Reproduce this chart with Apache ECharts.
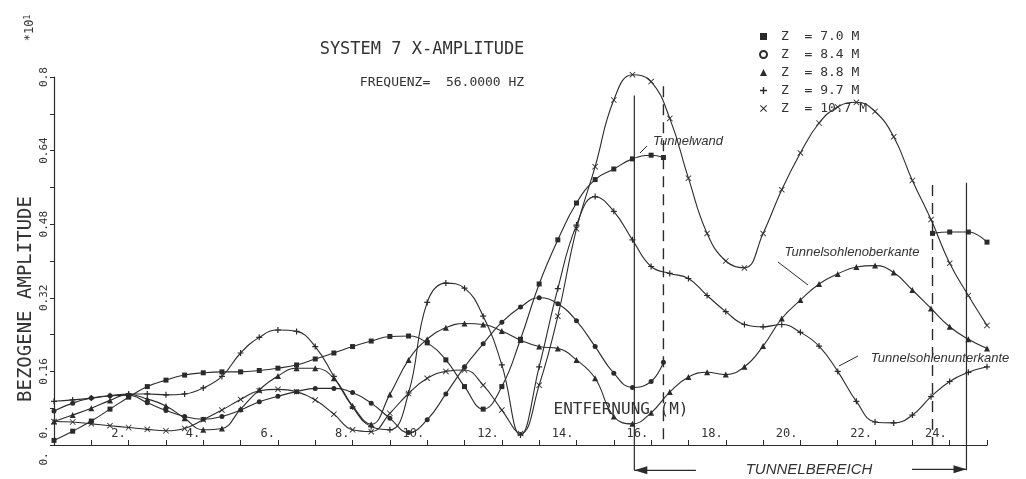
<!DOCTYPE html>
<html><head><meta charset="utf-8">
<script src="https://cdn.jsdelivr.net/npm/echarts@6/dist/echarts.min.js"></script>
<style>html,body{margin:0;padding:0;background:#fff}#c{width:1026px;height:479px}</style>
</head><body><div id="c"></div>
<script>
// ---- data ----
const distances = [0,0.5,1,1.5,2,2.5,3,3.5,4,4.5,5,5.5,6,6.5,7,7.5,8,8.5,9,9.5,10,10.5,11,11.5,12,12.5,13,13.5,14,14.5,15,15.5,16,16.5,17,17.5,18,18.5,19,19.5,20,20.5,21,21.5,22,22.5,23,23.5,24,24.5,25];
// Z = 7.0 M (squares) - interrupted inside the tunnel
const sqDist = [0,0.5,1,1.5,2,2.5,3,3.5,4,4.5,5,5.5,6,6.5,7,7.5,8,8.5,9,9.5,10,10.5,11,11.5,12,12.5,13,13.5,14,14.5,15,15.5,16,16.33,20,23.54,24,24.5,25];
const sqAmp = [0.01,0.03,0.052,0.078,0.104,0.127,0.141,0.152,0.157,0.159,0.159,0.162,0.167,0.174,0.187,0.2,0.214,0.226,0.236,0.237,0.222,0.185,0.127,0.078,0.127,0.23,0.35,0.446,0.526,0.577,0.6,0.622,0.63,0.625,null,0.46,0.463,0.463,0.441];
// Z = 8.4 M (circles) - ends at the tunnel wall
const ciDist = [0,0.5,1,1.5,2,2.5,3,3.5,4,4.5,5,5.5,6,6.5,7,7.5,8,8.5,9,9.5,10,10.5,11,11.5,12,12.5,13,13.5,14,14.5,15,15.5,16,16.33];
const ciAmp = [0.074,0.091,0.102,0.107,0.108,0.092,0.075,0.062,0.056,0.062,0.076,0.094,0.106,0.116,0.123,0.123,0.114,0.091,0.058,0.027,0.055,0.111,0.17,0.22,0.267,0.3,0.32,0.307,0.27,0.214,0.156,0.125,0.138,0.18];
// Z = 8.8 M (triangles)
const trAmp = [0.051,0.065,0.08,0.097,0.11,0.1,0.085,0.058,0.033,0.036,0.078,0.12,0.15,0.167,0.167,0.145,0.085,0.045,0.11,0.185,0.23,0.255,0.264,0.262,0.248,0.228,0.214,0.21,0.185,0.145,0.062,0.046,0.07,0.115,0.148,0.158,0.153,0.17,0.215,0.275,0.315,0.35,0.372,0.387,0.39,0.375,0.337,0.297,0.257,0.23,0.21];
// Z = 9.7 M (plus)
const plAmp = [0.095,0.098,0.102,0.107,0.111,0.111,0.109,0.111,0.124,0.149,0.2,0.234,0.25,0.247,0.214,0.149,0.083,0.04,0.033,0.113,0.31,0.352,0.341,0.28,0.174,0.022,0.17,0.34,0.478,0.54,0.508,0.446,0.388,0.373,0.362,0.325,0.29,0.262,0.257,0.262,0.245,0.215,0.16,0.095,0.05,0.048,0.065,0.105,0.138,0.158,0.17];
// Z = 10.7 M (crosses)
const xxAmp = [0.051,0.05,0.046,0.042,0.038,0.034,0.031,0.036,0.055,0.076,0.099,0.118,0.121,0.116,0.098,0.067,0.033,0.029,0.069,0.112,0.145,0.16,0.163,0.13,0.076,0.025,0.13,0.28,0.47,0.605,0.75,0.805,0.79,0.71,0.58,0.46,0.4,0.385,0.46,0.555,0.635,0.7,0.735,0.745,0.725,0.67,0.575,0.49,0.395,0.325,0.26];

const seriesNames = ['Z  = 7.0 M','Z  = 8.4 M','Z  = 8.8 M','Z  = 9.7 M','Z  = 10.7 M'];
const yTickValues = [0.16,0.32,0.48,0.64,0.8];
const yTickLabels = ['0.16','0.32','0.48','0.64','0.8'];
const xTickLabels = ['2.','4.','6.','8.','10.','12.','14.','16.','18.','20.','22.','24.'];

const tunnelWallX = [15.55, 24.45];
const tunnelWallTop = [0.76, 0.57];
const tunnelDashX = [16.33, 23.54];
const tunnelDashTop = [0.78, 0.565];
const arrowLevel = -0.055;
const arrowInnerX = [17.2, 22.99];

// ---- styles ----
const INK = '#2b2b2b';
const MONO = '"DejaVu Sans Mono", "Liberation Mono", monospace';
const HAND = '"Liberation Sans", "DejaVu Sans", sans-serif';
const PLUS = 'path://M0,4H10V6H0Z M4,0H6V10H4Z';
const CROSS = 'path://M1,0L5,4L9,0L10,1L6,5L10,9L9,10L5,6L1,10L0,9L4,5L0,1Z';

function pairs(xs, ys){ return xs.map((x,i)=>[x, ys[i]]); }

const symbols = ['rect','circle','triangle',PLUS,CROSS];
const legendIcons = ['rect','emptyCircle','triangle',PLUS,CROSS];
const dataSets = [pairs(sqDist,sqAmp), pairs(ciDist,ciAmp), pairs(distances,trAmp), pairs(distances,plAmp), pairs(distances,xxAmp)];

const chart = echarts.init(document.getElementById('c'), null, {renderer:'canvas'});
const option = {
  animation:false,
  backgroundColor:'#fff',
  grid:{left:54, right:39, top:77, bottom:34},
  legend:{
    orient:'vertical', left:754, top:25, itemWidth:7, itemHeight:7, itemGap:5,
    textStyle:{fontFamily:MONO, fontSize:13, color:'#333', padding:[0,0,0,9]},
    data: seriesNames.map((n,i)=>({name:n, icon:legendIcons[i]})),
    selectedMode:false
  },
  xAxis:{
    type:'value', min:0, max:25, interval:1,
    axisLine:{lineStyle:{color:INK, width:1.2}},
    axisTick:{inside:true, length:5, lineStyle:{color:INK}},
    axisLabel:{inside:true, margin:5, align:'right', padding:[0,3,0,0], fontFamily:MONO, fontSize:12, color:'#333',
      formatter:(v)=>{ const i = xTickLabels.findIndex(s=>Math.abs(parseFloat(s)-v)<1e-6); return i>=0?xTickLabels[i]:''; }},
    splitLine:{show:false}
  },
  yAxis:{
    type:'value', min:0, max:0.8, interval:0.08,
    axisLine:{show:true, lineStyle:{color:INK, width:1.2}},
    axisTick:{show:true, length:4, lineStyle:{color:INK}},
    axisLabel:{rotate:90, margin:4, fontFamily:MONO, fontSize:11, color:'#333',
      formatter:(v)=>{ const i = yTickValues.findIndex(t=>Math.abs(t-v)<1e-6); return i>=0?yTickLabels[i]:''; }},
    splitLine:{show:false}
  },
  series: seriesNames.map((n,i)=>({
    name:n, type:'line', data:dataSets[i], smooth:0.45, clip:false,
    symbol:symbols[i], symbolSize: i<2?5:6, showAllSymbol:true,
    lineStyle:{color:INK, width:1.1}, itemStyle:{color:INK},
    emphasis:{disabled:true}
  }))
};
chart.setOption(option);

// ---- annotations positioned through the chart's own scales ----
function px(x,y){ return chart.convertToPixel({gridIndex:0},[x,y]); }
const g = [];
tunnelWallX.forEach((x,i)=>{
  const a = px(x, tunnelWallTop[i]), b = px(x, arrowLevel);
  g.push({type:'line', shape:{x1:a[0],y1:a[1],x2:b[0],y2:b[1]}, style:{stroke:INK, lineWidth:1.2}});
});
tunnelDashX.forEach((x,i)=>{
  const a = px(x, tunnelDashTop[i]), b = px(x, 0);
  g.push({type:'line', shape:{x1:a[0],y1:a[1],x2:b[0],y2:b[1]}, style:{stroke:INK, lineWidth:1.4, lineDash:[11,7]}});
});
// TUNNELBEREICH arrows
{
  const l0 = px(tunnelWallX[0], arrowLevel), l1 = px(arrowInnerX[0], arrowLevel);
  const r0 = px(arrowInnerX[1], arrowLevel), r1 = px(tunnelWallX[1], arrowLevel);
  g.push({type:'line', shape:{x1:l0[0],y1:l0[1],x2:l1[0],y2:l1[1]}, style:{stroke:INK, lineWidth:1.3}});
  g.push({type:'polygon', shape:{points:[[l0[0],l0[1]],[l0[0]+13,l0[1]-4],[l0[0]+13,l0[1]+4]]}, style:{fill:INK}});
  g.push({type:'line', shape:{x1:r0[0],y1:r0[1]-1,x2:r1[0],y2:r1[1]-1}, style:{stroke:INK, lineWidth:1.3}});
  g.push({type:'polygon', shape:{points:[[r1[0],r1[1]-1],[r1[0]-13,r1[1]-5],[r1[0]-13,r1[1]+3]]}, style:{fill:INK}});
}
function txt(text,x,y,font,opts){ return Object.assign({type:'text', x:x, y:y, style:{text:text, font:font, fill:'#333', align:'center', verticalAlign:'middle'}}, opts||{}); }
g.push(txt('SYSTEM 7 X-AMPLITUDE', 422, 50, '17px '+MONO));
g.push(txt('FREQUENZ=  56.0000 HZ', 442, 83, '13px '+MONO));
g.push(txt('BEZOGENE AMPLITUDE', 26, 299, '19px '+MONO, {rotation:Math.PI/2}));
g.push({type:'text', x:30, y:28, rotation:Math.PI/2, style:{text:'*10{s|1}', font:'12px '+MONO, fill:'#333', align:'center', verticalAlign:'middle', rich:{s:{fontSize:8, verticalAlign:'top', fontFamily:'DejaVu Sans Mono'}}}});
g.push(txt('0.', 44, 432, '11px '+MONO, {rotation:Math.PI/2}));
g.push(txt('0.', 44, 459, '11px '+MONO, {rotation:Math.PI/2}));
g.push(txt('ENTFERNUNG (M)', 621, 410, '16px '+MONO));
g.push(txt('TUNNELBEREICH', 809, 470, 'italic 15px '+HAND));
g.push(txt('Tunnelwand', 688, 141, 'italic 13px '+HAND));
g.push({type:'line', shape:{x1:640,y1:153,x2:647,y2:146}, style:{stroke:INK, lineWidth:1}});
g.push(txt('Tunnelsohlenoberkante', 852, 252, 'italic 13px '+HAND));
g.push({type:'line', shape:{x1:778,y1:262,x2:808,y2:285}, style:{stroke:INK, lineWidth:1}});
g.push(txt('Tunnelsohlenunterkante', 940, 358, 'italic 13px '+HAND));
g.push({type:'line', shape:{x1:858,y1:356,x2:839,y2:366}, style:{stroke:INK, lineWidth:1}});
chart.setOption({graphic:{elements:g}});
</script>
</body></html>
